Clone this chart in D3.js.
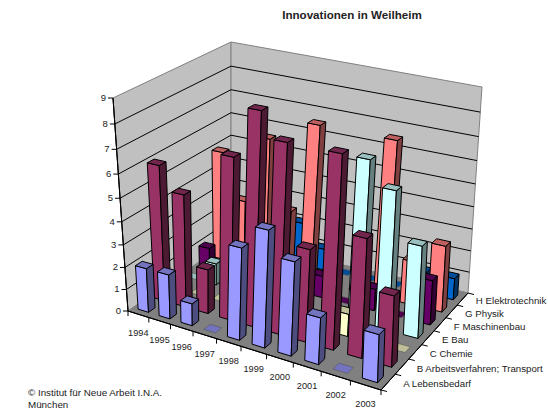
<!DOCTYPE html>
<html>
<head>
<meta charset="utf-8">
<script src="https://cdn.jsdelivr.net/npm/d3@7"></script>
<style>
body { margin: 0; background: #fff; }
text { font-family: "Liberation Sans", Arial, sans-serif; fill: #222; }
</style>
</head>
<body>
<div id="chart"></div>
<script>
const years = ['1994','1995','1996','1997','1998','1999','2000','2001','2002','2003'];
const categories = ['A Lebensbedarf','B Arbeitsverfahren; Transport','C Chemie','E Bau','F Maschinenbau','G Physik','H Elektrotechnik'];
const colors = ['#9999ff','#993366','#ffffcc','#ccffff','#660066','#ff8080','#0066cc'];
const lebensbedarf = [2,2,1,0,4,5,4,2,0,2];
const arbeitsverfahren = [6,5,2,7,9,8,4,8,5,3];
const chemie = [0,0,0,0,0,0,0,1,0,0];
const bau = [0,1,0,0,0,0,0,7,6,4];
const maschinenbau = [1,0,0,0,0,1,0,1,0,2];
const physik = [5,3,6,3,7,3,0,7,2,3];
const elektrotechnik = [0,0,0,2,1,0,0,0,1,1];
const series = [lebensbedarf, arbeitsverfahren, chemie, bau, maschinenbau, physik, elektrotechnik];

const w = 548, h = 409;
const svg = d3.select('#chart').append('svg').attr('width', w).attr('height', h);

// scales work in a unit cube, project() turns that into picture coordinates
const xScale = d3.scaleBand().domain(years).range([0, 1]).paddingInner(0.5).paddingOuter(0.25);
const zScale = d3.scaleBand().domain(categories).range([0, 1]).paddingInner(0.6).paddingOuter(0.3);
const yScale = d3.scaleLinear().domain([0, 9]).range([0, 1]);

// maps the unit square on a quad: front left, front right, back right, back left
function homography(q) {
    const [[x0,y0],[x1,y1],[x2,y2],[x3,y3]] = q;
    const dx1 = x1-x2, dx2 = x3-x2, sx = x0-x1+x2-x3;
    const dy1 = y1-y2, dy2 = y3-y2, sy = y0-y1+y2-y3;
    const den = dx1*dy2 - dx2*dy1;
    const g = (sx*dy2 - dx2*sy)/den, k = (dx1*sy - sx*dy1)/den;
    const a = x1-x0+g*x1, b = x3-x0+k*x3, d = y1-y0+g*y1, e = y3-y0+k*y3;
    return (u,v) => {
        const t = g*u + k*v + 1;
        return [(a*u + b*v + x0)/t, (d*u + e*v + y0)/t];
    };
}
const floor = homography([[128,311],[381,390],[468,293],[231,240]]);
const ceil = homography([[113,98],[388,152],[482,87],[231,42]]);

function project(u, v, t) {
    const s = t*0.9/(1 - 0.1*t);
    const a = floor(u,v), b = ceil(u,v);
    return [a[0] + (b[0]-a[0])*s, a[1] + (b[1]-a[1])*s];
}
const line = d3.line();
function poly(pts, fill, stroke, sw) {
    svg.append('path').attr('d', line(pts) + 'Z').attr('fill', fill)
        .attr('stroke', stroke).attr('stroke-width', sw).attr('stroke-linejoin', 'round');
}
function shade(c, f) {
    const r = d3.rgb(c);
    return d3.rgb(r.r*f, r.g*f, r.b*f).formatHex();
}

// walls and floor
poly([project(0,0,0),project(0,1,0),project(0,1,1),project(0,0,1)], '#c0c0c0', '#808080', 1);
poly([project(0,1,0),project(1,1,0),project(1,1,1),project(0,1,1)], '#c0c0c0', '#808080', 1);
poly([project(0,0,0),project(1,0,0),project(1,1,0),project(0,1,0)], '#808080', '#808080', 1);

yScale.ticks(9).forEach(d => {
    const t = yScale(d);
    if (d > 0 && d < 9) {
        svg.append('path').attr('d', line([project(0,0,t),project(0,1,t),project(1,1,t)]))
            .attr('fill','none').attr('stroke','#000').attr('stroke-width',1);
    }
    const p = project(0,0,t);
    svg.append('line').attr('x1',p[0]-5).attr('y1',p[1]).attr('x2',p[0]).attr('y2',p[1]).attr('stroke','#000');
    svg.append('text').attr('x',p[0]-7).attr('y',p[1]+3).attr('text-anchor','end').attr('font-size',9.5).text(d);
});

// axis lines, tick marks and labels
poly([project(0,0,0),project(0,0,1)], 'none', '#000', 1);
poly([project(0,0,0),project(1,0,0)], 'none', '#000', 1);
poly([project(1,0,0),project(1,1,0)], 'none', '#000', 1);

const xStep = xScale.step(), zStep = zScale.step();
d3.range(years.length + 1).forEach(i => {
    const p = project(i*xStep, 0, 0);
    svg.append('line').attr('x1',p[0]).attr('y1',p[1]).attr('x2',p[0]).attr('y2',p[1]+5).attr('stroke','#000');
});
years.forEach((d,i) => {
    const p = project((i+0.5)*xStep, 0, 0);
    svg.append('text').attr('x',p[0]).attr('y',p[1]+22).attr('text-anchor','middle').attr('font-size',9.2).text(d);
});
d3.range(categories.length + 1).forEach(i => {
    const p = project(1, i*zStep, 0);
    svg.append('line').attr('x1',p[0]).attr('y1',p[1]).attr('x2',p[0]+6).attr('y2',p[1]+1.5).attr('stroke','#000');
});
categories.forEach((d,i) => {
    const p = project(1, (i+0.5)*zStep, 0);
    svg.append('text').attr('x',p[0]+15-i*0.3).attr('y',p[1]+5.5).attr('font-size',9.7).text(d);
});

// bars, back row first, left to right
d3.range(categories.length - 1, -1, -1).forEach(r => {
    const v0 = zScale(categories[r]), v1 = v0 + zScale.bandwidth();
    const c = colors[r];
    years.forEach((year,i) => {
        const u0 = xScale(year), u1 = u0 + xScale.bandwidth();
        const t = yScale(series[r][i]);
        if (t > 0) {
            poly([project(u0,v0,0),project(u1,v0,0),project(u1,v0,t),project(u0,v0,t)], c, '#000', 1);
            poly([project(u1,v0,0),project(u1,v1,0),project(u1,v1,t),project(u1,v0,t)], shade(c,0.5), '#000', 1);
        }
        poly([project(u0,v0,t),project(u1,v0,t),project(u1,v1,t),project(u0,v1,t)], shade(c,0.75), t > 0 ? '#000' : '#555', t > 0 ? 1 : 0.6);
    });
});

svg.append('text').attr('x',352).attr('y',19).attr('text-anchor','middle')
    .attr('font-size',11.6).attr('font-weight','bold').text('Innovationen in Weilheim');
svg.append('text').attr('x',28).attr('y',396).attr('font-size',9.8).text('© Institut für Neue Arbeit I.N.A.');
svg.append('text').attr('x',28).attr('y',408).attr('font-size',9.8).text('München');
</script>
</body>
</html>
